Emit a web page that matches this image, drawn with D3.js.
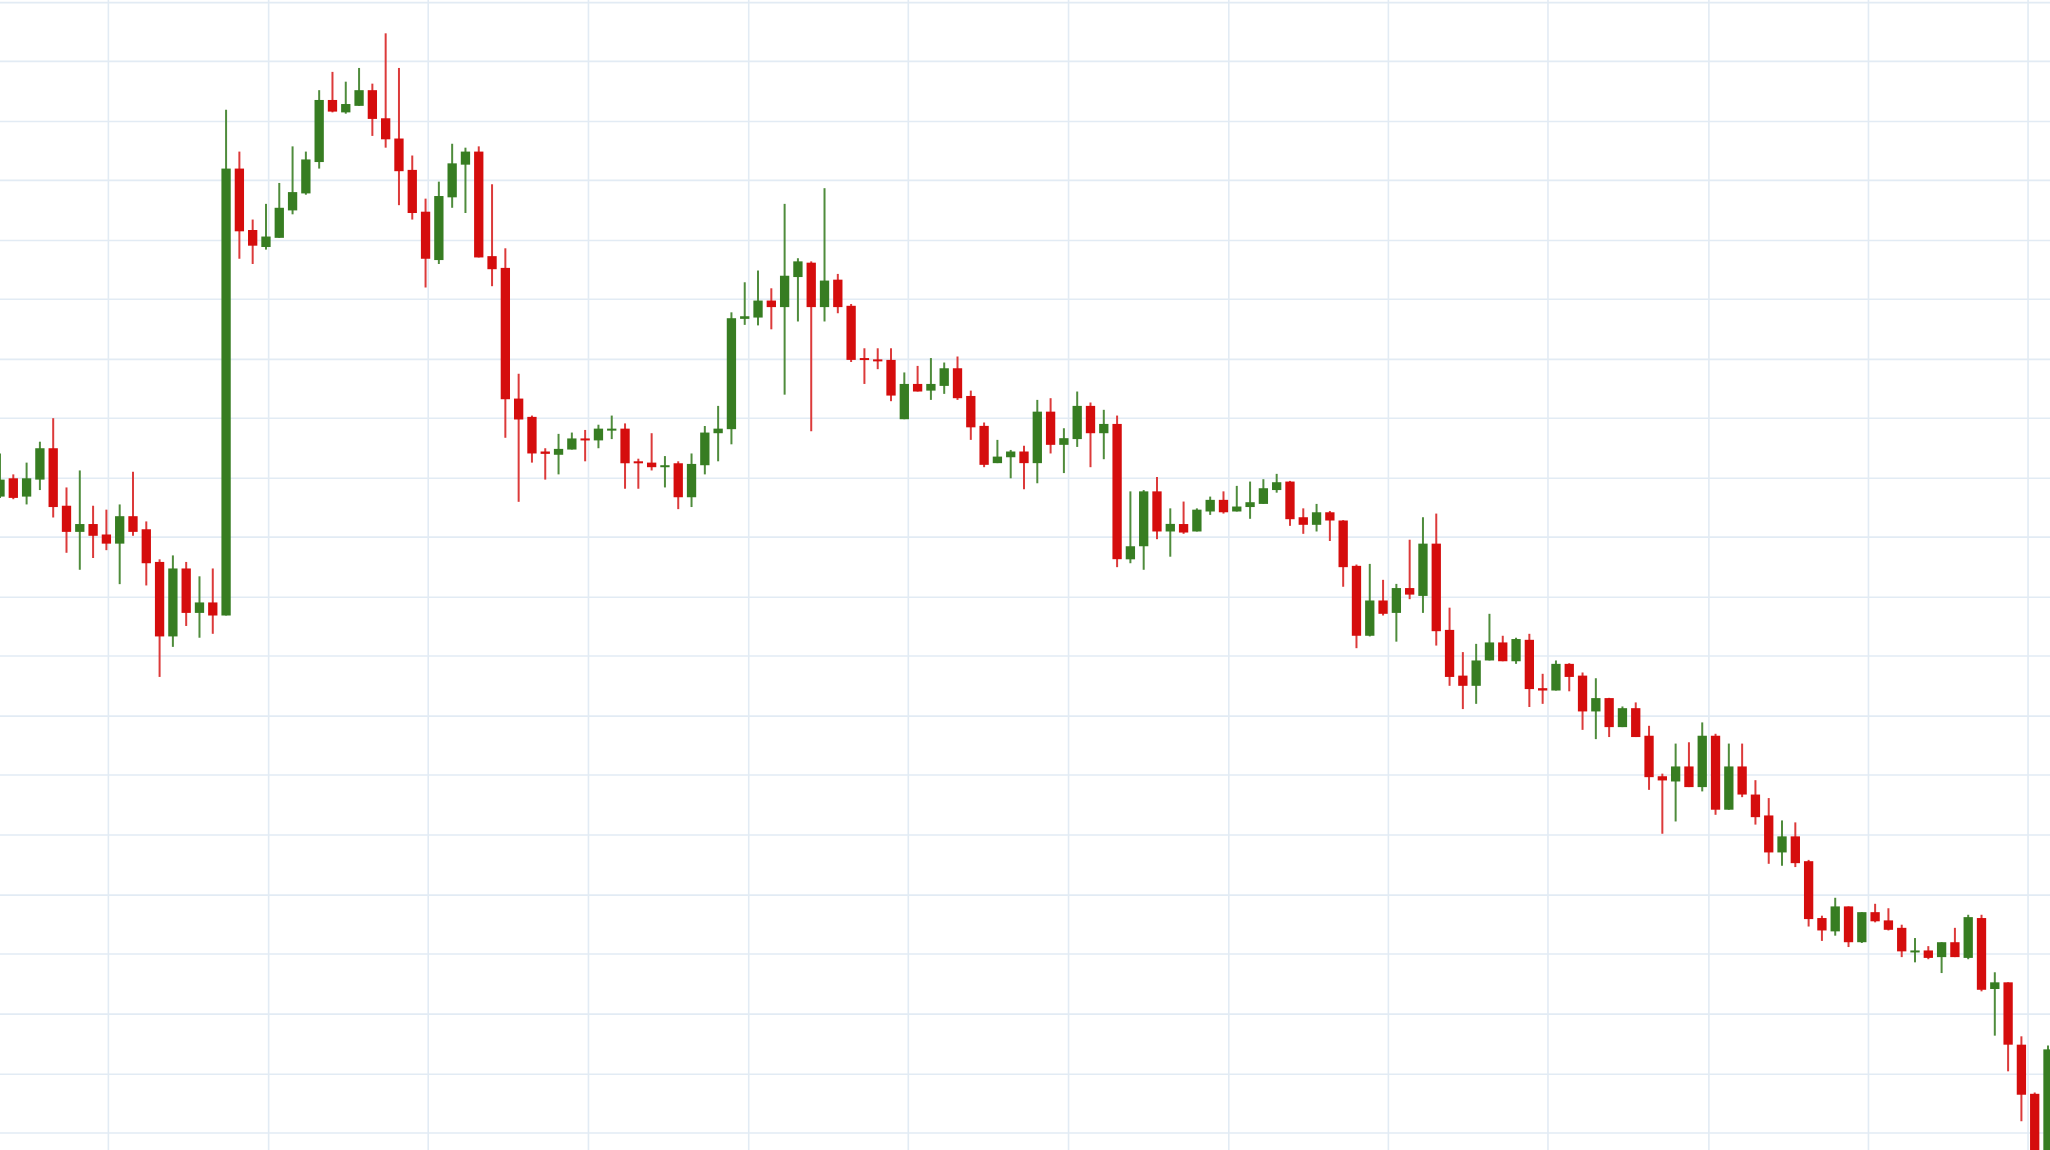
<!DOCTYPE html>
<html><head><meta charset="utf-8">
<script src="https://cdn.jsdelivr.net/npm/d3@7"></script>
<style>html,body{margin:0;padding:0;background:#fff;overflow:hidden}</style>
</head><body><svg id="c" width="2050" height="1150"></svg>
<script>
// OHLC values [open, high, low, close]
const opens  = [];
const candles = [
[500,533,499,513],[514,517,498,499],[500,526,494,514],[513,542,505,537],[537,560,484,492],
[493,507,457,473],[473,520,444,479],[479,493,453,470],[471,490,459,464],[464,494,433,485],
[485,519,470,473],[475,481,432,449],[450,452,362,393],[393,455,385,445],[445,450,401,411],
[411,439,392,419],[419,445,395,409],[409,796,409,751],[751,764,682,703],[704,712,678,692],
[691,724,689,699],[698,740,698,721],[719,768,716,733],[732,764,731,758],[756,811,751,803.5],
[803.5,825,794,794.6],[794,817.5,793,800.4],[799,828,799,811],[811,816,776,789],[789.5,854.5,767,773.4],
[774,828,723,749],[750,761,712,717],[718,728,660,682],[681,741,678,730],[729,770,721,755],
[754,767,717,764],[764,768,683,683],[684,739,661,674],[675,690,545,574.5],[575,594,496,559],
[561,562,526,533],[534.5,537,513,532.7],[532,548,517,536.5],[536,549,536,544.5],[544.5,551,527,543],
[543,555,537,552],[551,562,544,552],[552,556,506,525.5],[527,529,506,525.5],[526,548.5,520,522.5],
[523,531,507,524],[525.5,527,490.4,499.5],[499.5,533,492,525],[524,554,517,549],[548.5,569.4,527,552],
[551.6,641,540,636.5],[636,664,631.4,638],[637,673,631,650],[650,659.4,628,645],[645,724,578,669],
[668,682.4,634,680],[679,680,550,645],[645,736,634,665.3],[666,670.4,640.3,645],[646,647.4,603,604.6],
[606,613.5,586.2,604.6],[605,613.5,597.5,604],[604.6,613.5,573,577.3],[559.2,595,559.2,586.2],[586.2,600,580.4,580.4],
[581.1,606,574,586.2],[584.7,602.6,578.6,598.2],[598.2,607.2,574,575.3],[577,581.1,543.4,553],[554.1,556.7,522.5,524.3],
[525.6,543.4,525.6,530.6],[530.1,535.7,514,534.5],[534.5,539,505.7,525.6],[525.6,574,510.2,565],[565,575.3,533,539.6],
[539.6,552.3,518,544.7],[544,580.4,538,569.4],[569.4,572,522.5,548.5],[548.5,566.4,528.6,555.6],[555.6,562,446,452.1],
[452,504,449,462],[462,505,444,504],[504,515,467.4,473.3],[473.3,491,454,479.1],[479,496.2,471.5,472.5],
[473.3,491,473.3,490],[488.6,500,486,497.5],[497.5,504,487,488],[488.6,508.2,488.6,492.4],[492,511.5,483,495.7],
[494.4,513.3,494.4,506.4],[505,517.4,503,511],[511.5,512,477.6,482.7],[484.2,491,471.5,478.4],[478.4,494.4,473.3,488],
[488,489,466,481.7],[481.7,482,431,446],[447,448,384,393.5],[393.5,448.5,393,420.5],[420.5,436.3,409,410.3],
[411,433.2,389,430],[430,467,421.5,425],[424,484.2,411,464],[464,487,386,397],[398,415,355.2,362],
[363,381,337.4,355.2],[355.2,387.3,341.4,374.6],[374.6,410.3,374.6,388.4],[388.4,393.5,374,374],[374,392,372,391],
[390.4,395,339,352.7],[353.4,364.4,341.4,351.6],[351.6,374.6,351.6,372],[372,372.5,351,362],[363,365.4,321.5,335.6],
[335.6,361,314.4,345.8],[345.8,346,316,323.6],[323.6,339.4,323.6,338.1],[338.1,342.5,316,316],[317,324.6,275.6,285.3],
[286,288,242,282.8],[282,311,251.4,293.5],[293.5,312,277.7,277.7],[277.7,327.2,274.4,317],[317,318.5,256.5,260.4],
[260.4,311,260.4,293.5],[293.5,311,270,272],[272,283,249,254.7],[256,269.3,219,227.7],[227.7,252.2,217.5,240],
[240,250.7,216.5,219.5],[221,222,171,176.7],[177.5,179.3,160,168],[167.3,193,164,186.4],[186.4,186.4,155.3,159],
[159,182,158.4,182],[182,188.4,174.2,175],[175.7,185,168,168.5],[170,172.4,147.6,152],[152,162.2,143.6,152.7],
[152.7,156,146,147],[147.6,159,135.4,159],[159,170,147.6,147.6],[147,180,146,178.2],[177.5,180,121.4,122.6],
[123.2,136,87.5,128.3],[128.3,128.3,60.2,80.6],[80.6,87,22,42.3],[43,44,-10,-5],[-10,80,-15,77]
];
const gridXTicks = [8.15,20.2,32.2,44.25,56.3,68.3,80.35,92.4,104.4,116.4,128.5,140.5,152.5];
const gridYTicks = [878,833,787,742,696,651,605,560,514,469,423,378,332,287,241,195,150,104,58,13];

const W = 2050, H = 1150;
const svg = d3.select('#c');
const x = d3.scaleLinear().domain([0, candles.length - 1]).range([0, 2048]);
const y = d3.scaleLinear().domain([0, 880]).range([H, 0]);

const g = svg.append('g');
g.selectAll('line.gx').data(gridXTicks).join('line')
  .attr('x1', d => x(d)).attr('x2', d => x(d)).attr('y1', 0).attr('y2', H)
  .attr('stroke', '#e2ebf4').attr('stroke-width', 1.6);
g.selectAll('line.gy').data(gridYTicks).join('line')
  .attr('y1', d => y(d)).attr('y2', d => y(d)).attr('x1', 0).attr('x2', W)
  .attr('stroke', '#e2ebf4').attr('stroke-width', 1.6);

const GREEN = '#377d22', RED = '#d50d0d';
const cg = svg.append('g').selectAll('g').data(candles).join('g');
cg.append('line')
  .attr('x1', (d, i) => x(i)).attr('x2', (d, i) => x(i))
  .attr('y1', d => y(d[1])).attr('y2', d => y(d[2]))
  .attr('stroke', d => d[3] >= d[0] ? '#4f8c3c' : '#dc3a3a').attr('stroke-width', 2);
const bw = (x(1) - x(0)) * 0.7;
cg.append('rect')
  .attr('x', (d, i) => x(i) - bw / 2).attr('width', bw)
  .attr('y', d => y(Math.max(d[0], d[3])))
  .attr('height', d => Math.max(2, Math.abs(y(d[0]) - y(d[3]))))
  .attr('fill', d => d[3] >= d[0] ? GREEN : RED);
</script></body></html>
